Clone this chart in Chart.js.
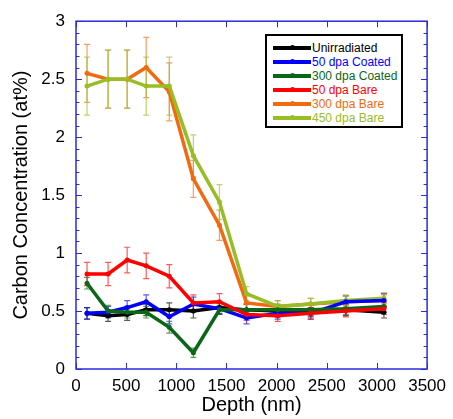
<!DOCTYPE html>
<html>
<head>
<meta charset="utf-8">
<script src="https://cdn.jsdelivr.net/npm/chart.js@4.4.1/dist/chart.umd.min.js"></script>
<style>
    html, body { margin: 0; padding: 0; background: #fff; }
    #wrap { position: relative; width: 453px; height: 419px; }
    #legend {
        position: absolute; left: 265px; top: 34px; width: 134px; height: 90px;
        border: 2px solid #000; background: #fff;
        font-family: Arial, "Liberation Sans", sans-serif; font-size: 12px;
    }
    #legend .row { position: absolute; left: 6px; height: 14px; line-height: 14px; white-space: nowrap; }
    #legend .swatch { position: absolute; left: 0; top: 5px; width: 38px; height: 4px; }
    #legend .dot { position: absolute; left: 17px; top: -1px; width: 5px; height: 5px; border-radius: 50%; }
    #legend .label { position: absolute; left: 39px; top: 0; }
</style>
</head>
<body>
<div id="wrap">
    <canvas id="chart" width="453" height="419"></canvas>
    <div id="legend"></div>
</div>
<script>
// Depth positions (nm) shared by all series
const depths = [110, 320, 510, 700, 930, 1170, 1430, 1700, 2010, 2340, 2690, 3070];

const unirradiated = [0.48, 0.46, 0.47, 0.51, 0.51, 0.50, 0.53, 0.51, 0.50, 0.50, 0.51, 0.49];
const coated50 = [0.48, 0.49, 0.53, 0.58, 0.45, 0.56, 0.52, 0.44, 0.48, 0.48, 0.58, 0.59];
const coated300 = [0.74, 0.50, 0.49, 0.49, 0.36, 0.14, 0.51, 0.51, 0.51, 0.51, 0.52, 0.54];
const bare50 = [0.82, 0.82, 0.94, 0.89, 0.80, 0.57, 0.58, 0.47, 0.46, 0.48, 0.50, 0.52];
const bare300 = [2.55, 2.50, 2.50, 2.60, 2.39, 1.64, 1.24, 0.57, 0.54, 0.56, 0.58, 0.59];
const bare450 = [2.44, 2.50, 2.50, 2.44, 2.44, 1.84, 1.44, 0.65, 0.54, 0.56, 0.59, 0.61];

// +/- error for each point
const errUnirradiated = [0.05, 0.05, 0.05, 0.05, 0.06, 0.06, 0.05, 0.05, 0.05, 0.05, 0.05, 0.05];
const errCoated50 = [0.05, 0.05, 0.06, 0.06, 0.06, 0.06, 0.05, 0.05, 0.05, 0.05, 0.05, 0.06];
const errCoated300 = [0.05, 0.05, 0.05, 0.05, 0.05, 0.04, 0.04, 0.05, 0.05, 0.05, 0.05, 0.05];
const errBare50 = [0.10, 0.10, 0.11, 0.11, 0.10, 0.07, 0.07, 0.05, 0.05, 0.05, 0.05, 0.05];
const errBare300 = [0.25, 0.25, 0.25, 0.26, 0.25, 0.16, 0.13, 0.06, 0.05, 0.05, 0.05, 0.05];
const errBare450 = [0.25, 0.25, 0.25, 0.25, 0.25, 0.18, 0.15, 0.06, 0.05, 0.05, 0.05, 0.05];

const xTicks = [0, 500, 1000, 1500, 2000, 2500, 3000, 3500];
const yTicks = [0, 0.5, 1, 1.5, 2, 2.5, 3];

const SERIES = [
    { label: 'Unirradiated', values: unirradiated, errors: errUnirradiated, color: '#000000', order: 4 },
    { label: '50 dpa Coated', values: coated50, errors: errCoated50, color: '#0000ff', order: 3 },
    { label: '300 dpa Coated', values: coated300, errors: errCoated300, color: '#0b6617', order: 2 },
    { label: '50 dpa Bare', values: bare50, errors: errBare50, color: '#ff0000', order: 1 },
    { label: '300 dpa Bare', values: bare300, errors: errBare300, color: '#f26a10', order: 6 },
    { label: '450 dpa Bare', values: bare450, errors: errBare450, color: '#98bd25', order: 5 }
];

const FRAME_COLOR = '#2b2bd9';

const errorBarPlugin = {
    id: 'errorBars',
    beforeDatasetsDraw(chart) {
        const { ctx, scales } = chart;
        ctx.save();
        ctx.lineWidth = 1.2;
        ctx.globalAlpha = 0.65;
        SERIES.forEach(series => {
            ctx.strokeStyle = series.color;
            depths.forEach((d, i) => {
                const x = scales.x.getPixelForValue(d);
                const yTop = scales.y.getPixelForValue(series.values[i] + series.errors[i]);
                const yBot = scales.y.getPixelForValue(series.values[i] - series.errors[i]);
                ctx.beginPath();
                ctx.moveTo(x, yTop); ctx.lineTo(x, yBot);
                ctx.moveTo(x - 3, yTop); ctx.lineTo(x + 3, yTop);
                ctx.moveTo(x - 3, yBot); ctx.lineTo(x + 3, yBot);
                ctx.stroke();
            });
        });
        ctx.restore();
    }
};

const framePlugin = {
    id: 'frame',
    afterDraw(chart) {
        const { ctx, chartArea: a, scales } = chart;
        ctx.save();
        ctx.strokeStyle = FRAME_COLOR;
        ctx.lineWidth = 1.5;
        ctx.strokeRect(a.left, a.top, a.right - a.left, a.bottom - a.top);
        ctx.lineWidth = 1;
        ctx.beginPath();
        xTicks.forEach(v => {
            const x = Math.round(scales.x.getPixelForValue(v)) + 0.5;
            ctx.moveTo(x, a.bottom); ctx.lineTo(x, a.bottom - 6);
            ctx.moveTo(x, a.top); ctx.lineTo(x, a.top + 6);
        });
        for (let k = 0; k <= 30; k++) {
            const y = Math.round(scales.y.getPixelForValue(k / 10)) + 0.5;
            const len = k % 5 === 0 ? 6 : 3.5;
            ctx.moveTo(a.left, y); ctx.lineTo(a.left + len, y);
            ctx.moveTo(a.right, y); ctx.lineTo(a.right - len, y);
        }
        ctx.stroke();
        ctx.restore();
    }
};

const tickFont = { family: 'Arial, "Liberation Sans", sans-serif', size: 17 };
const titleFont = { family: 'Arial, "Liberation Sans", sans-serif', size: 20 };

new Chart(document.getElementById('chart'), {
    type: 'line',
    data: {
        datasets: SERIES.map(series => ({
            label: series.label,
            data: depths.map((d, i) => ({ x: d, y: series.values[i] })),
            borderColor: series.color,
            backgroundColor: series.color,
            borderWidth: 3.5,
            pointRadius: 2.5,
            pointBorderWidth: 0,
            tension: 0,
            order: series.order
        }))
    },
    options: {
        responsive: false,
        animation: false,
        layout: { padding: { top: 13, right: 19, bottom: 0, left: 0 } },
        plugins: { legend: { display: false }, tooltip: { enabled: false } },
        scales: {
            x: {
                type: 'linear', min: 0, max: 3500,
                afterBuildTicks: scale => { scale.ticks = xTicks.map(v => ({ value: v })); },
                afterFit: scale => { scale.height = 50; },
                grid: { display: false, drawTicks: false },
                border: { display: false },
                ticks: { color: '#000', font: tickFont, padding: 7, maxRotation: 0, callback: v => String(v) },
                title: { display: true, text: 'Depth (nm)', color: '#000', font: titleFont, padding: { top: 0, bottom: 2 } }
            },
            y: {
                type: 'linear', min: 0, max: 3,
                afterBuildTicks: scale => { scale.ticks = yTicks.map(v => ({ value: v })); },
                afterFit: scale => { scale.width = 76; },
                grid: { display: false, drawTicks: false },
                border: { display: false },
                ticks: { color: '#000', font: tickFont, padding: 11, callback: v => String(v) },
                title: { display: true, text: 'Carbon Concentration (at%)', color: '#000', font: titleFont, padding: { top: 9, bottom: 0 } }
            }
        }
    },
    plugins: [errorBarPlugin, framePlugin]
});

// legend with coloured labels
const legend = document.getElementById('legend');
SERIES.forEach((series, i) => {
    const row = document.createElement('div');
    row.className = 'row';
    row.style.top = (5 + i * 14) + 'px';
    row.innerHTML = `<span class="swatch" style="background:${series.color}"><span class="dot" style="background:${series.color}"></span></span>`
        + `<span class="label" style="color:${series.color}">${series.label}</span>`;
    legend.appendChild(row);
});
</script>
</body>
</html>
